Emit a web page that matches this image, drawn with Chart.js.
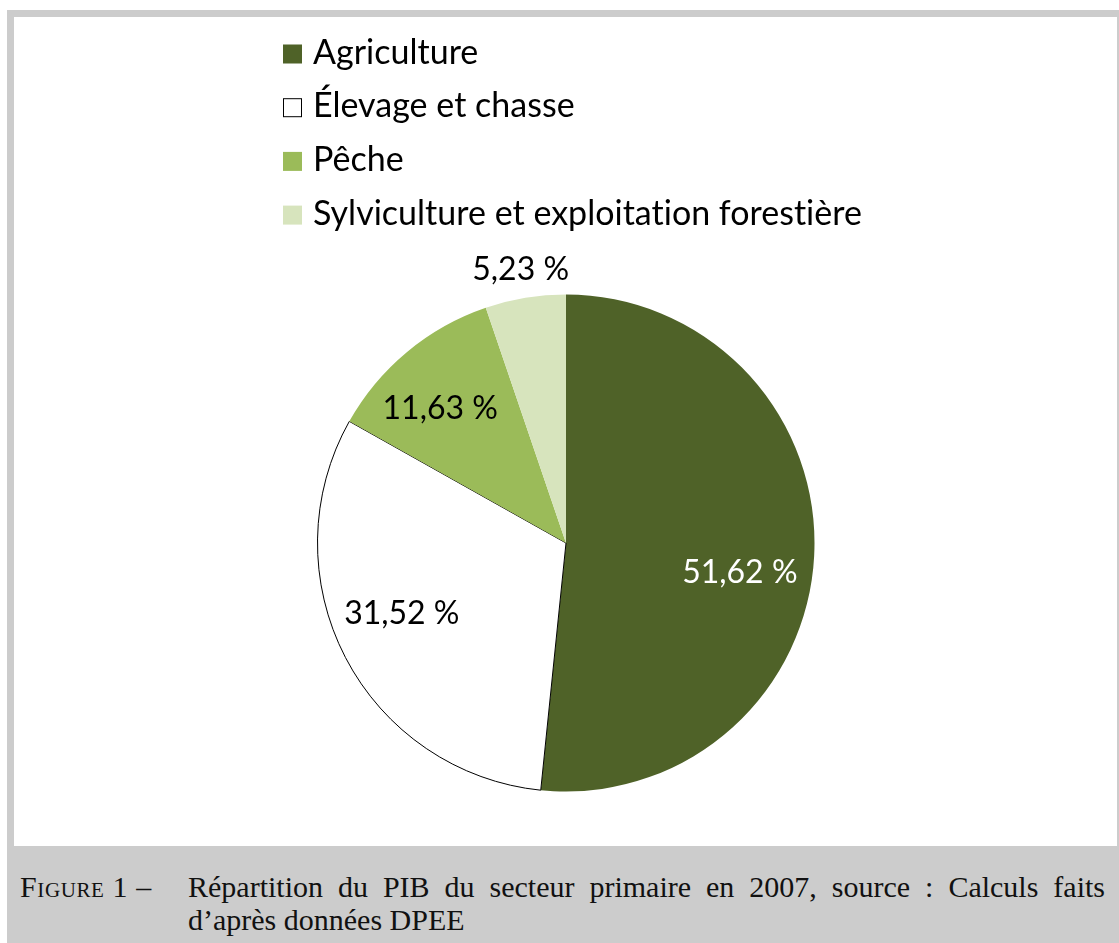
<!DOCTYPE html>
<html lang="fr">
<head>
<meta charset="UTF-8">
<title>Répartition du PIB du secteur primaire en 2007</title>
<style>
    html, body {
        margin: 0;
        padding: 0;
        background: #ffffff;
        width: 1119px;
        height: 943px;
        overflow: hidden;
    }
    .frame {
        position: absolute;
        left: 7px;
        top: 10px;
        width: 1112px;
        height: 933px;
        background: #cccccc;
    }
    .panel {
        position: absolute;
        left: 14px;
        top: 17px;
        width: 1103px;
        height: 829px;
        background: #ffffff;
    }
    .caption {
        position: absolute;
        left: 20px;
        top: 870px;
        width: 1085px;
        font-family: "Liberation Serif", "DejaVu Serif", serif;
        font-size: 30px;
        line-height: 33px;
        color: #111;
    }
    .caption .row { display: flex; }
    .caption .tag { width: 168px; flex: none; white-space: nowrap; letter-spacing: 0.6px; }
    .caption .txt { flex: 1; text-align: justify; text-align-last: justify; }
    .caption .cont { padding-left: 168px; }
    .sc { font-variant: small-caps; }
</style>
</head>
<body>
<div class="frame"></div>
<div class="panel"><canvas id="pie"></canvas></div>
<div class="caption">
    <div class="row"><span class="tag"><span class="sc">Figure</span> 1 –</span><span class="txt">Répartition du PIB du secteur primaire en 2007, source : Calculs faits</span></div>
    <div class="cont">d’après données DPEE</div>
</div>

<script src="https://cdn.jsdelivr.net/npm/chart.js"></script>
<script>
    // data
    const sectors = ['Agriculture', 'Élevage et chasse', 'Pêche', 'Sylviculture et exploitation forestière'];
    const shares = [51.62, 31.52, 11.63, 5.23];
    const sliceColors = ['#4f6228', '#ffffff', '#9bbb59', '#d7e4bd'];

    // label placement, same as the excel "best fit" look
    const labelRadius = [0.71, 0.72, 0.74, 1.115];
    const labelAngleShift = [6.9, 4.0, -3.4, 0];
    const labelColors = ['#ffffff', '#000000', '#000000', '#000000'];

    const fontFace = 'Lato, "Open Sans", sans-serif';

    const legendBlock = {
        id: 'legendBlock',
        afterDraw(chart) {
            const ctx = chart.ctx;
            ctx.save();
            ctx.font = '34px ' + fontFace;
            ctx.letterSpacing = '0.01px'; // no "ti" ligature
            ctx.textBaseline = 'alphabetic';
            ctx.textAlign = 'left';
            chart.data.labels.forEach((lbl, i) => {
                const cy = 37 + i * 53.7;   // row center (panel coords)
                const bx = 269, size = 19;
                ctx.fillStyle = sliceColors[i];
                ctx.fillRect(bx, cy - size / 2, size, size);
                if (sliceColors[i] === '#ffffff') {
                    ctx.strokeStyle = '#000000';
                    ctx.lineWidth = 1;
                    ctx.strokeRect(bx + 0.5, cy - size / 2 + 0.5, size - 1, size - 1);
                }
                ctx.fillStyle = '#000000';
                ctx.fillText(lbl, 299, cy + 9.5);
            });
            ctx.restore();
        }
    };

    const sliceLabels = {
        id: 'sliceLabels',
        afterDatasetsDraw(chart) {
            const ctx = chart.ctx;
            const arcs = chart.getDatasetMeta(0).data;
            ctx.save();
            ctx.font = '32px ' + fontFace;
            ctx.textAlign = 'center';
            ctx.textBaseline = 'middle';
            arcs.forEach((arc, i) => {
                const p = arc.getProps(['x', 'y', 'startAngle', 'endAngle', 'outerRadius'], true);
                const mid = (p.startAngle + p.endAngle) / 2 + labelAngleShift[i] * Math.PI / 180;
                const r = p.outerRadius * labelRadius[i];
                const txt = shares[i].toFixed(2).replace('.', ',') + ' %';
                ctx.fillStyle = labelColors[i];
                ctx.fillText(txt, p.x + Math.cos(mid) * r, p.y + Math.sin(mid) * r);
            });
            ctx.restore();
        }
    };

    new Chart(document.getElementById('pie'), {
        type: 'pie',
        data: {
            labels: sectors,
            datasets: [{
                data: shares,
                backgroundColor: sliceColors,
                borderColor: '#000000',
                borderWidth: [0, 1, 0, 0]
            }]
        },
        options: {
            responsive: true,
            maintainAspectRatio: false,
            animation: false,
            layout: {
                padding: { left: 303, right: 302, top: 277, bottom: 54 }
            },
            plugins: {
                legend: { display: false },
                tooltip: { enabled: false }
            }
        },
        plugins: [legendBlock, sliceLabels]
    });
</script>
</body>
</html>
